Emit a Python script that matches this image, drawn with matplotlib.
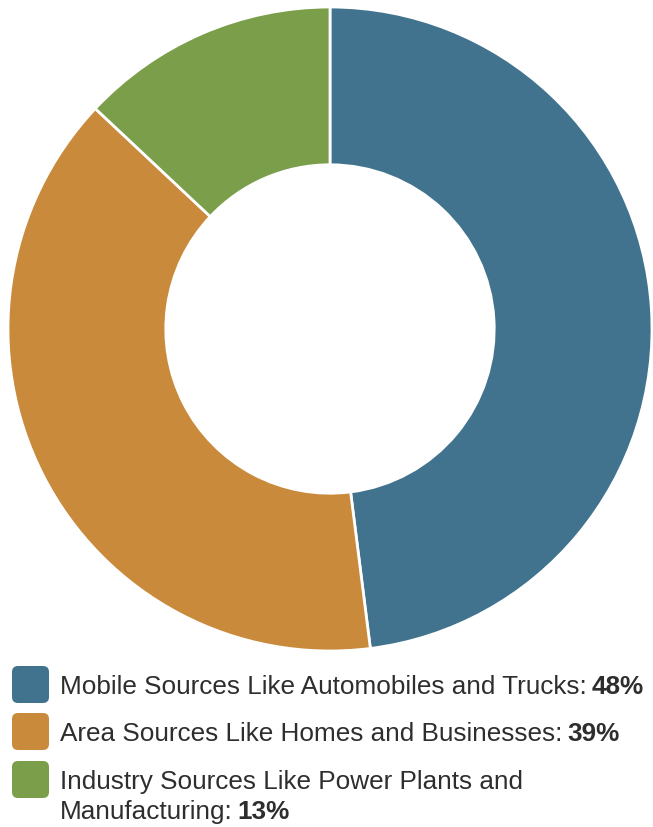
import matplotlib
matplotlib.use("Agg")
import matplotlib.pyplot as plt
from matplotlib.patches import FancyBboxPatch

plt.rcParams['font.family'] = ['Liberation Sans', 'DejaVu Sans']

labels = ["Mobile Sources Like Automobiles and Trucks:",
          "Area Sources Like Homes and Businesses:",
          "Industry Sources Like Power Plants and\nManufacturing:"]
shares = [48, 39, 13]
colors = ["#41738e", "#c98a3c", "#7a9e4a"]

W, H = 653, 828
fig = plt.figure(figsize=(W / 100, H / 100), dpi=100)

# donut, centre (330, 330) px, radius 322 px
cx, cy, r = 330, 330, 322
ax = fig.add_axes([(cx - r) / W, (H - cy - r) / H, 2 * r / W, 2 * r / H])
ax.pie(shares, colors=colors, startangle=90, counterclock=False, radius=1,
       wedgeprops=dict(width=0.49, edgecolor="white", linewidth=2))
ax.set_xlim(-1, 1)
ax.set_ylim(-1, 1)
ax.set_aspect("equal")
ax.axis("off")

# legend drawn in pixel coordinates
lax = fig.add_axes([0, 0, 1, 1])
lax.set_xlim(0, W)
lax.set_ylim(H, 0)
lax.axis("off")

rows_y = [686, 733, 781]
fs = 18.8
txtcol = "#2e2e2e"
fig.canvas.draw()
rend = fig.canvas.get_renderer()
for lab, val, col, y in zip(labels, shares, colors, rows_y):
    lax.add_patch(FancyBboxPatch((15, y - 16), 31, 31,
                                 boxstyle="round,pad=3,rounding_size=6",
                                 fc=col, ec="none"))
    lines = lab.split("\n")
    for i, line in enumerate(lines):
        t = lax.text(60, y + 1 + 30 * i, line, fontsize=fs, color=txtcol,
                     va="center", ha="left")
    bb = t.get_window_extent(renderer=rend)
    lax.text(bb.x1 + 5, y + 1 + 30 * (len(lines) - 1), f"{val}%", fontsize=fs,
             color=txtcol, fontweight="bold", va="center", ha="left")

fig.savefig("out.png", dpi=100)
